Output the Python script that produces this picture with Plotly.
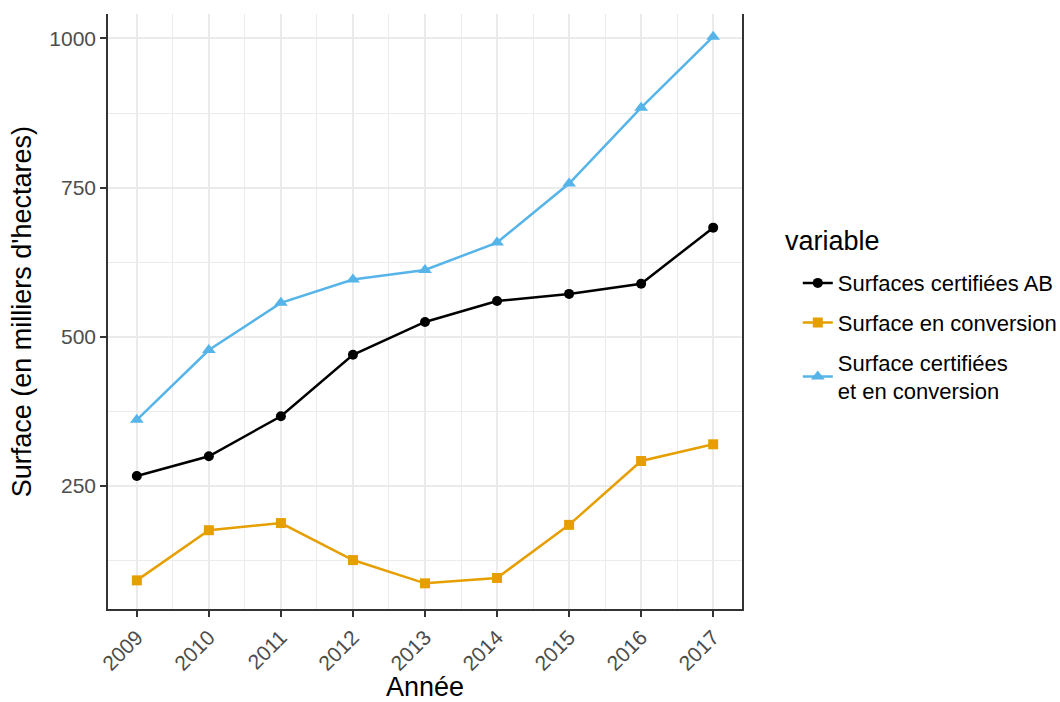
import plotly.graph_objects as go

annees = [2009, 2010, 2011, 2012, 2013, 2014, 2015, 2016, 2017]
certifiees_ab = [267, 300, 367, 470, 525, 560, 572, 589, 683]
en_conversion = [92, 176, 188, 126, 87, 96, 185, 292, 320]
certif_et_conv = [361, 478, 557, 596, 612, 658, 757, 884, 1003]

series = [
    ("Surfaces certifiées AB", certifiees_ab, "#000000", "circle", 10),
    ("Surface en conversion", en_conversion, "#E69F00", "square", 10),
    ("Surface certifiées<br>et en conversion", certif_et_conv, "#56B4E9", "triangle-up", 12),
]

fig = go.Figure()
for i, (name, vals, color, sym, size) in enumerate(series):
    fig.add_trace(go.Scatter(x=annees, y=vals, name=name, mode="lines+markers",
                             line=dict(color=color, width=2.5),
                             marker=dict(symbol=sym, size=size, color=color),
                             legendgroup=f"g{i}"))

fig.update_layout(width=1060, height=702,
                  paper_bgcolor="white", plot_bgcolor="white",
                  font=dict(family="Liberation Sans, Arial, sans-serif", size=21, color="#000000"),
                  margin=dict(l=108, r=318, t=14, b=93, autoexpand=False),
                  legend=dict(x=1.088, xanchor="left", y=0.457, yanchor="middle",
                              traceorder="grouped", tracegroupgap=8,
                              font=dict(size=22), bgcolor="rgba(0,0,0,0)"))

# axis titles and legend title placed as annotations
fig.add_annotation(text="variable", xref="paper", yref="paper", x=1.065, y=0.619,
                   xanchor="left", yanchor="middle", showarrow=False, font=dict(size=27))
fig.add_annotation(text="Année", xref="paper", yref="paper", x=0.5, y=-0.131,
                   xanchor="center", yanchor="middle", showarrow=False, font=dict(size=27))
fig.add_annotation(text="Surface (en milliers d'hectares)", xref="paper", yref="paper",
                   x=-0.136, y=0.5, textangle=-90, xanchor="center", yanchor="middle",
                   showarrow=False, font=dict(size=27))

fig.update_xaxes(range=[2008.6, 2017.4], tickmode="array", tickvals=annees,
                 ticktext=[str(a) for a in annees], tickangle=-45, automargin=False,
                 tickfont=dict(size=21, color="#4D4D4D"),
                 showgrid=True, gridcolor="#EBEBEB", gridwidth=2,
                 minor=dict(tickvals=[a + 0.5 for a in annees[:-1]], showgrid=True,
                            gridcolor="#EBEBEB", gridwidth=1, ticks=""),
                 showline=True, linecolor="#333333", linewidth=1.5, mirror=False,
                 ticks="outside", ticklen=6, tickwidth=2, tickcolor="#333333",
                 zeroline=False)

fig.update_yaxes(range=[44, 1041], tick0=0, dtick=250, automargin=False,
                 tickfont=dict(size=21, color="#4D4D4D"),
                 showgrid=True, gridcolor="#EBEBEB", gridwidth=2,
                 minor=dict(tick0=0, dtick=125, showgrid=True, gridcolor="#EBEBEB",
                            gridwidth=1, ticks=""),
                 showline=True, linecolor="#333333", linewidth=1.5, mirror=True,
                 ticks="outside", ticklen=6, tickwidth=2, tickcolor="#333333",
                 zeroline=False)

# the page's default body margin would shift the figure by 8px
fig.write_html("out.html", config={"displayModeBar": False},
               post_script="document.body.style.margin='0';")
